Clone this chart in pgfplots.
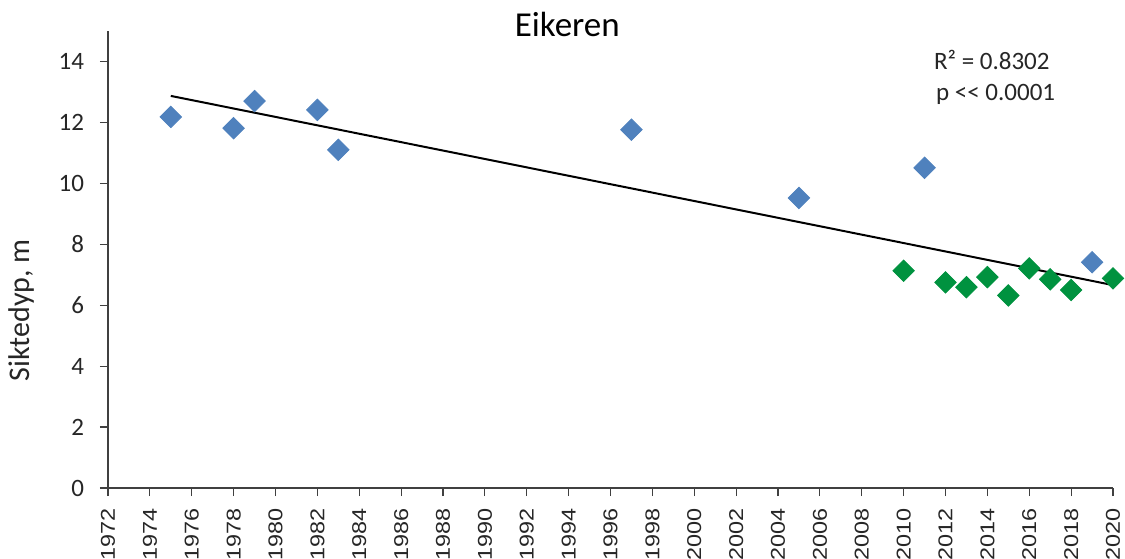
\documentclass[border=0pt]{standalone}
\usepackage{fontspec}
\setmainfont{Carlito}
\newfontfamily\arialf{Liberation Sans}
\usepackage{graphicx}
\usepackage{pgfplots}
\pgfplotsset{compat=1.18}
\definecolor{eblue}{RGB}{79,129,189}
\definecolor{egreen}{RGB}{0,146,63}
\definecolor{txt}{RGB}{38,38,38}
\begin{document}
\begin{tikzpicture}
\path[use as bounding box] (-54pt,-35pt) rectangle (508.5pt,244pt);
\begin{axis}[
  at={(0,0)}, anchor=south west,
  scale only axis, width=502.5pt, height=228.5pt,
  xmin=1972, xmax=2020, ymin=0, ymax=15,
  axis x line*=bottom, axis y line*=left,
  axis line style={-, black!75, line width=0.6pt},
  tick style={black!75, line width=0.6pt},
  tick align=outside, major tick length=4pt,
  xtick={1972,1974,...,2020},
  ytick={0,2,...,14},
  xticklabel={\scalebox{1.17}[1]{\arialf\pgfmathprintnumber[1000 sep={}]{\tick}}},
  xticklabel style={rotate=90, anchor=east, font=\fontsize{10}{11}\selectfont, text=txt},
  xticklabel shift=2.5pt,
  yticklabel style={font=\fontsize{12.5}{14}\selectfont, text=txt},
  yticklabel shift=4.5pt,
  /pgf/number format/assume math mode=true,
  clip=false,
  ylabel={Siktedyp, m},
  every axis y label/.style={at={(axis description cs:-0.0856,0.389)}, rotate=90, anchor=center, font=\fontsize{15}{18}\selectfont, text=txt},
  title={Eikeren},
  every axis title/.style={at={(axis description cs:0.457,0.987)}, anchor=base, font=\fontsize{17.5}{20}\selectfont, text=black},
]
\addplot[only marks, mark=square*, mark size=3.8pt, color=eblue, mark options={rotate=45, draw=eblue, fill=eblue}] table {
x y
1975 12.18
1978 11.81
1979 12.70
1982 12.41
1983 11.10
1997 11.76
2005 9.52
2011 10.51
2019 7.41
};
\addplot[only marks, mark=square*, mark size=3.8pt, color=egreen, mark options={rotate=45, draw=egreen, fill=egreen}] table {
x y
2010 7.13
2012 6.75
2013 6.59
2014 6.92
2015 6.32
2016 7.21
2017 6.85
2018 6.50
2020 6.88
};
\addplot[black, line width=1pt, no marks] coordinates {(1975,12.87) (2020,6.66)};
\node[anchor=base west, font=\fontsize{12.5}{14}\selectfont, text=txt] at (axis description cs:0.815,0.915) {R² = 0.8302};
\node[anchor=base west, font=\fontsize{12.5}{14}\selectfont, text=txt] at (axis description cs:0.817,0.849) {p <{}< 0.0001};
\end{axis}
\end{tikzpicture}
\end{document}
